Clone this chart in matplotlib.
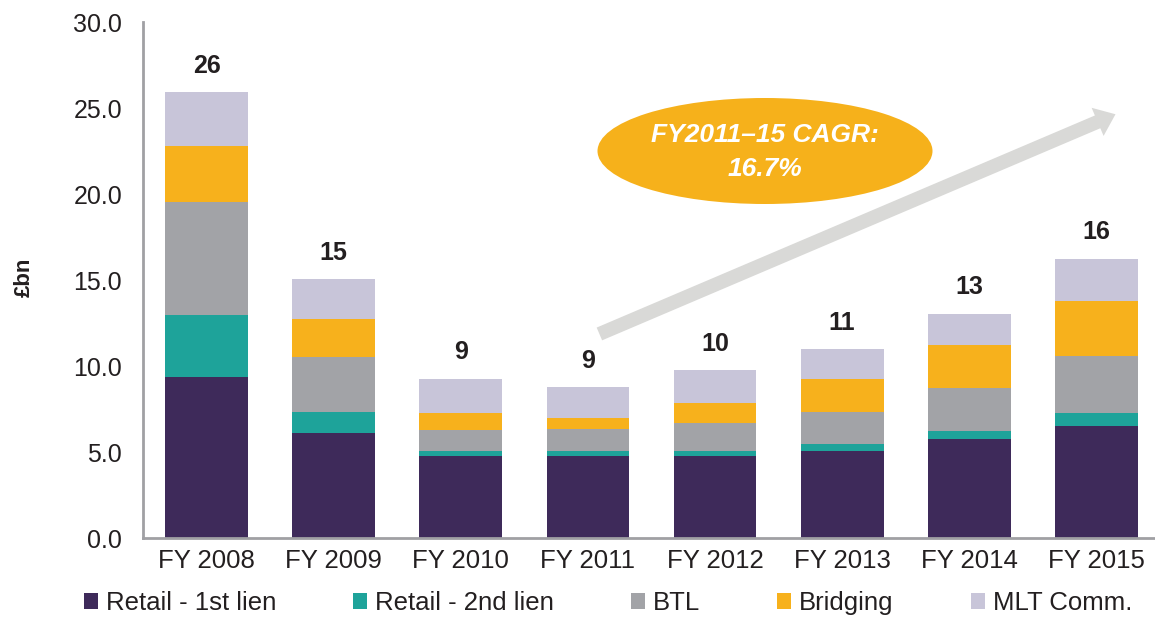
import matplotlib
matplotlib.use("Agg")
import matplotlib.pyplot as plt
import numpy as np
from matplotlib.patches import Ellipse, FancyArrowPatch, ArrowStyle

# Lending volumes by product, £bn
years = ["FY 2008", "FY 2009", "FY 2010", "FY 2011", "FY 2012", "FY 2013", "FY 2014", "FY 2015"]
retail_1st = [9.35, 6.10, 4.74, 4.74, 4.74, 5.03, 5.73, 6.54]
retail_2nd = [3.60, 1.23, 0.29, 0.29, 0.29, 0.41, 0.52, 0.70]
btl = [6.56, 3.21, 1.24, 1.28, 1.63, 1.91, 2.50, 3.37]
bridging = [3.27, 2.17, 0.97, 0.66, 1.16, 1.87, 2.50, 3.16]
mlt_comm = [3.15, 2.33, 2.03, 1.78, 1.92, 1.74, 1.80, 2.48]
totals_label = ["26", "15", "9", "9", "10", "11", "13", "16"]

series_names = ["Retail - 1st lien", "Retail - 2nd lien", "BTL", "Bridging", "MLT Comm."]
series_colors = ["#3E2A5A", "#1EA39A", "#A2A3A7", "#F7B11C", "#C8C5D9"]
y_ticks = [0, 5, 10, 15, 20, 25, 30]

cagr_text = "FY2011\u201315 CAGR:\n16.7%"

plt.rcParams["font.family"] = ["Liberation Sans", "DejaVu Sans"]
text_col = "#231F20"

fig = plt.figure(figsize=(11.55, 6.17), dpi=100)
ax = fig.add_axes([143 / 1155, 1 - 538 / 617, (1160 - 143) / 1155, (538 - 22) / 617])

x = np.arange(len(years))
bottom = np.zeros(len(years))
handles = []
for vals, name, col in zip([retail_1st, retail_2nd, btl, bridging, mlt_comm], series_names, series_colors):
    h = ax.bar(x, vals, width=0.65, bottom=bottom, color=col, label=name, linewidth=0)
    handles.append(h)
    bottom = bottom + np.array(vals)

for xi, top, lab in zip(x, bottom, totals_label):
    ax.annotate(lab, (xi, top), xytext=(0, 19), textcoords="offset points",
                ha="center", va="center", fontsize=18, fontweight="bold", color=text_col)

ax.set_xlim(-0.5, 7.5)
ax.set_ylim(0, 30)
ax.set_yticks(y_ticks)
ax.set_yticklabels([f"{v:.1f}" for v in y_ticks], fontsize=18, color=text_col)
ax.set_xticks(x)
ax.set_xticklabels(years, fontsize=18.5, color=text_col)
ax.tick_params(axis="both", length=0)
ax.tick_params(axis="x", pad=8)
ax.tick_params(axis="y", pad=15)

for s in ["top", "right"]:
    ax.spines[s].set_visible(False)
for s in ["left", "bottom"]:
    ax.spines[s].set_color("#A0A0A4")
    ax.spines[s].set_linewidth(2)

fig.text(24 / 1155, 1 - 277 / 617, "£bn", rotation=90, ha="center", va="center",
         fontsize=16, fontweight="bold", color=text_col)

# growth arrow
arrow = FancyArrowPatch((3.07, 11.8), (7.17, 24.7),
                        arrowstyle=ArrowStyle.Simple(head_length=0.7, head_width=1.1, tail_width=0.5),
                        mutation_scale=20, color="#D9D9D7", linewidth=0, zorder=3)
ax.add_patch(arrow)

# CAGR bubble
ell = Ellipse((765 / 1155, 1 - 151 / 617), 335 / 1155, 106 / 617,
              transform=fig.transFigure, facecolor="#F6B11B", edgecolor="none", zorder=4)
fig.patches.append(ell)
fig.text(765 / 1155, 1 - 152 / 617, cagr_text, ha="center", va="center", color="white",
         fontsize=19, fontweight="bold", style="italic", linespacing=1.5, zorder=5)

leg = fig.legend(handles=handles, labels=series_names, loc="center left",
                 bbox_to_anchor=(84 / 1155, 1 - 603 / 617), ncol=5, frameon=False,
                 handlelength=0.55, handleheight=0.55, handletextpad=0.3, columnspacing=3.0,
                 borderaxespad=0, borderpad=0, prop={"size": 18.5})
for t in leg.get_texts():
    t.set_color(text_col)

fig.savefig("out.png", dpi=100)
